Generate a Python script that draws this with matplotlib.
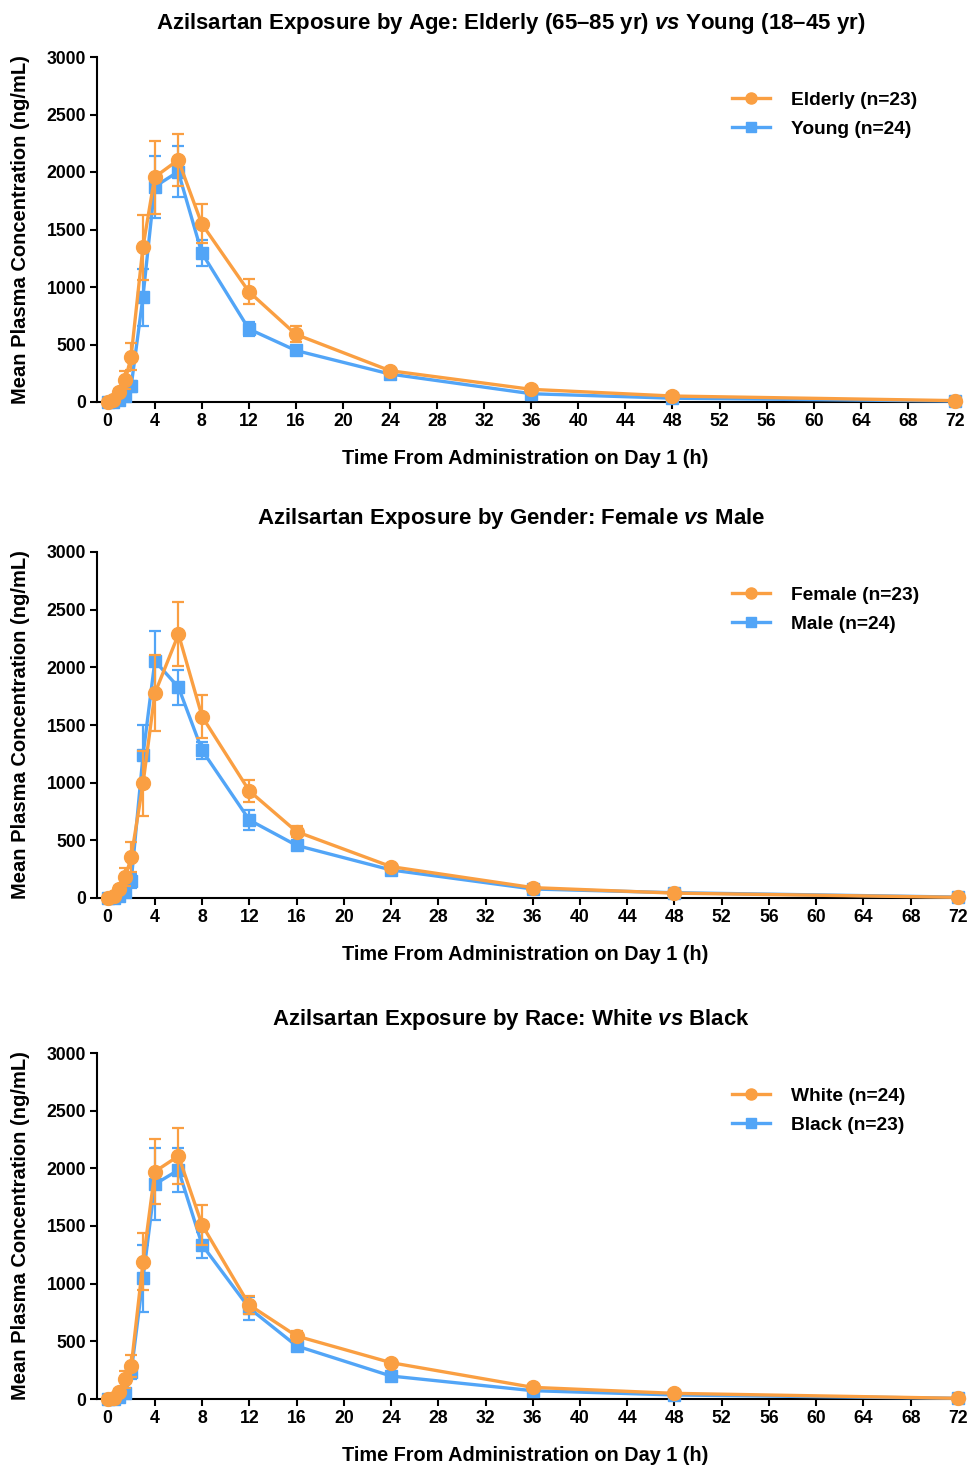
import matplotlib
matplotlib.use("Agg")
import matplotlib.pyplot as plt
from matplotlib.lines import Line2D

plt.rcParams['font.family'] = ['Liberation Sans', 'DejaVu Sans']
plt.rcParams['font.weight'] = 'bold'
plt.rcParams['mathtext.fontset'] = 'custom'
plt.rcParams['mathtext.it'] = 'Liberation Sans:italic:bold'
plt.rcParams['mathtext.rm'] = 'Liberation Sans:bold'

time_h = [0, 0.5, 1, 1.5, 2, 3, 4, 6, 8, 12, 16, 24, 36, 48, 72]

elderly = [0, 20, 85, 190, 395, 1345, 1955, 2105, 1550, 960, 588, 272, 110, 52, 12]
elderly_err = [0, 10, 30, 80, 120, 282, 318, 226, 171, 108, 70, 25, 15, 10, 5]
young = [0, 2, 15, 52, 135, 910, 1872, 2003, 1298, 635, 448, 243, 72, 33, 8]
young_err = [0, 2, 10, 30, 50, 250, 270, 223, 115, 60, 40, 20, 10, 6, 3]

female = [0, 15, 75, 179, 358, 995, 1775, 2287, 1573, 928, 575, 272, 90, 42, 6]
female_err = [0, 8, 30, 79, 130, 280, 328, 278, 185, 95, 45, 20, 12, 8, 4]
male = [0, 2, 15, 55, 150, 1240, 2055, 1827, 1280, 676, 456, 243, 78, 46, 8]
male_err = [0, 2, 10, 30, 60, 260, 261, 152, 75, 90, 30, 20, 10, 8, 3]

white = [0, 12, 63, 171, 286, 1191, 1972, 2107, 1509, 815, 546, 315, 101, 49, 6]
white_err = [0, 8, 25, 74, 96, 250, 282, 247, 170, 80, 40, 25, 12, 8, 4]
black = [0, 2, 15, 55, 237, 1047, 1862, 1986, 1336, 787, 460, 199, 72, 35, 6]
black_err = [0, 2, 10, 30, 60, 290, 312, 191, 115, 100, 35, 20, 10, 6, 3]

titles = [
    r"Azilsartan Exposure by Age: Elderly (65–85 yr) $\mathit{vs}$ Young (18–45 yr)",
    r"Azilsartan Exposure by Gender: Female $\mathit{vs}$ Male",
    r"Azilsartan Exposure by Race: White $\mathit{vs}$ Black",
]
orange_labels = ["Elderly (n=23)", "Female (n=23)", "White (n=24)"]
blue_labels = ["Young (n=24)", "Male (n=24)", "Black (n=23)"]
orange_data = [(elderly, elderly_err), (female, female_err), (white, white_err)]
blue_data = [(young, young_err), (male, male_err), (black, black_err)]

xticks = list(range(0, 73, 4))
yticks = [0, 500, 1000, 1500, 2000, 2500, 3000]

ORANGE = '#FA9F42'
BLUE = '#52A5F7'

W, H = 971, 1466
fig = plt.figure(figsize=(W / 100, H / 100), dpi=100)

panels = [  # left, top, right, bottom in px
    (97, 57, 962, 402),
    (97, 552, 965, 898),
    (97, 1053, 965, 1399),
]

for i, (l, t, r, b) in enumerate(panels):
    ax = fig.add_axes([l / W, 1 - b / H, (r - l) / W, (b - t) / H])
    ob, oe = orange_data[i]
    bb, be = blue_data[i]
    ax.errorbar(time_h, bb, yerr=be, color=BLUE, lw=2.4, marker='s', ms=9,
                capsize=4.5, elinewidth=1.6, capthick=1.6, clip_on=False,
                zorder=3)
    ax.errorbar(time_h, ob, yerr=oe, color=ORANGE, lw=2.4, marker='o', ms=10,
                capsize=4.5, elinewidth=1.6, capthick=1.6, clip_on=False,
                zorder=4)
    ax.set_xlim(-0.9, 72.6)
    ax.set_ylim(0, 3000)
    ax.set_xticks(xticks)
    ax.set_yticks(yticks)
    for s in ['top', 'right']:
        ax.spines[s].set_visible(False)
    for s in ['left', 'bottom']:
        ax.spines[s].set_linewidth(1.5)
    ax.tick_params(direction='out', length=5, width=1.5, labelsize=12.7, pad=3)
    for lab in ax.get_xticklabels() + ax.get_yticklabels():
        lab.set_fontweight('bold')
    ax.set_title(titles[i], fontsize=16, fontweight='bold', pad=20,
                 x=(511 - l) / (r - l))
    ax.set_xlabel("Time From Administration on Day 1 (h)", fontsize=14.3,
                  fontweight='bold', labelpad=14)
    ax.xaxis.set_label_coords((525 - l) / (r - l), -0.137)
    ax.set_ylabel("Mean Plasma Concentration (ng/mL)", fontsize=14.5,
                  fontweight='bold', labelpad=12)
    handles = [
        Line2D([], [], color=ORANGE, lw=2.4, marker='o', ms=8),
        Line2D([], [], color=BLUE, lw=2.4, marker='s', ms=7.5),
    ]
    leg = ax.legend(handles, [orange_labels[i], blue_labels[i]], loc='upper left',
                    bbox_to_anchor=((722 - l) / (r - l), (b - t - 25) / (b - t)),
                    frameon=False, fontsize=13.8, handlelength=2.0,
                    handletextpad=1.1, labelspacing=0.6, borderpad=0)
    for txt in leg.get_texts():
        txt.set_fontweight('bold')

fig.savefig("out.png", dpi=100)
